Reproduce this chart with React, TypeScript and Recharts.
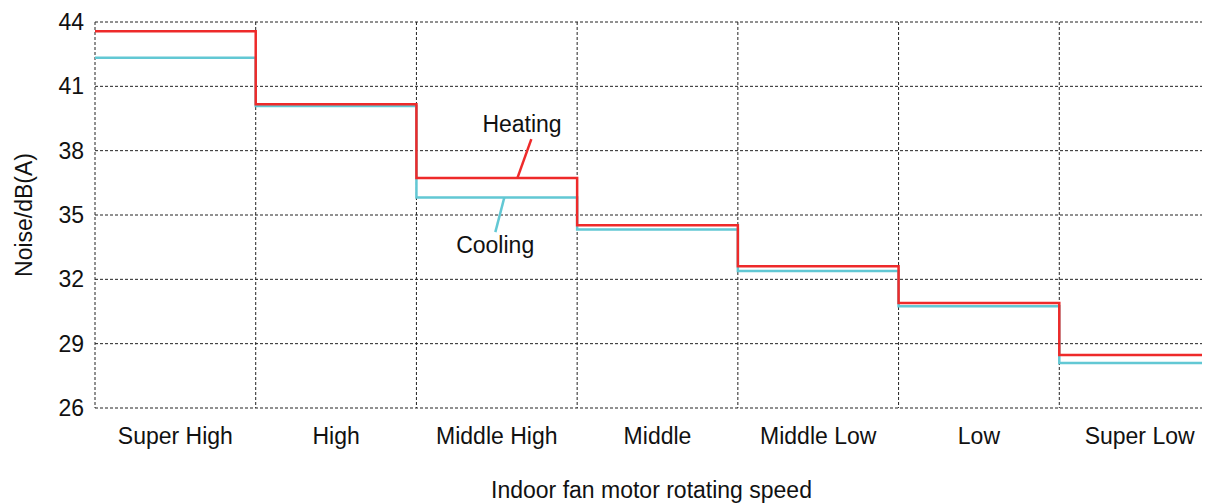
import {
  LineChart,
  Line,
  XAxis,
  YAxis,
  CartesianGrid,
  ReferenceLine,
  ReferenceDot,
} from "recharts";

const categories = [
  "Super High",
  "High",
  "Middle High",
  "Middle",
  "Middle Low",
  "Low",
  "Super Low",
];
const heating = [43.57, 40.17, 36.72, 34.52, 32.61, 30.9, 28.47];
const cooling = [42.33, 40.08, 35.82, 34.32, 32.39, 30.74, 28.1];
const yTicks = [26, 29, 32, 35, 38, 41, 44];
const gridTicks = [0, 1, 2, 3, 4, 5, 6, 7];
const labelTicks = [0.5, 1.5, 2.5, 3.5, 4.5, 5.5, 6.5];

// step data: one point per band edge, last value repeated at the right edge
const data = gridTicks.map((x) => {
  const i = Math.min(x, categories.length - 1);
  return { x, heating: heating[i], cooling: cooling[i] };
});

const FONT = "'Liberation Sans', Arial, sans-serif";
const RED = "#EE2A2A";
const CYAN = "#62C8D4";
const TEXT = "#111";
const FS = 23;

export default function App() {
  return (
    <div style={{ width: 1202, height: 495, overflow: "hidden", fontFamily: FONT }}>
      <LineChart
        width={1212}
        height={495}
        data={data}
        margin={{ top: 14, right: 0, bottom: 0, left: 0 }}
      >
        <CartesianGrid stroke="#222" strokeDasharray="3 2" />
        <XAxis
          dataKey="x"
          type="number"
          domain={[0, 7]}
          ticks={gridTicks}
          height={0}
          hide
        />
        <XAxis
          xAxisId="lab"
          type="number"
          domain={[0, 7]}
          ticks={labelTicks}
          axisLine={false}
          tickLine={false}
          height={95}
          tickMargin={14}
          tick={{ fontSize: FS, fill: TEXT, fontFamily: FONT }}
          tickFormatter={(v: number) => categories[Math.floor(v)]}
          label={{
            value: "Indoor fan motor rotating speed",
            position: "insideBottom",
            offset: 5,
            dx: -6,
            fontSize: FS,
            fill: TEXT,
            fontFamily: FONT,
          }}
        />
        <YAxis
          type="number"
          domain={[26, 44]}
          ticks={yTicks}
          width={87}
          axisLine={false}
          tickLine={false}
          tickMargin={5}
          tick={{ fontSize: FS, fill: TEXT, fontFamily: FONT }}
          label={{
            value: "Noise/dB(A)",
            angle: -90,
            position: "insideLeft",
            offset: 16,
            fontSize: FS,
            fill: TEXT,
            fontFamily: FONT,
            style: { textAnchor: "middle" },
          }}
        />
        <Line
          type="stepAfter"
          dataKey="cooling"
          stroke={CYAN}
          strokeWidth={2.5}
          dot={false}
          isAnimationActive={false}
        />
        <Line
          type="stepAfter"
          dataKey="heating"
          stroke={RED}
          strokeWidth={2.5}
          dot={false}
          isAnimationActive={false}
        />
        <ReferenceLine
          segment={[
            { x: 2.715, y: 38.54 },
            { x: 2.628, y: 36.72 },
          ]}
          stroke={RED}
          strokeWidth={2.5}
        />
        <ReferenceLine
          segment={[
            { x: 2.547, y: 35.82 },
            { x: 2.491, y: 34.2 },
          ]}
          stroke={CYAN}
          strokeWidth={2.5}
        />
        <ReferenceDot
          x={2.657}
          y={39.24}
          r={0}
          fill="none"
          stroke="none"
          label={{ value: "Heating", position: "center", fontSize: FS, fill: TEXT, fontFamily: FONT }}
        />
        <ReferenceDot
          x={2.49}
          y={33.6}
          r={0}
          fill="none"
          stroke="none"
          label={{ value: "Cooling", position: "center", fontSize: FS, fill: TEXT, fontFamily: FONT }}
        />
      </LineChart>
    </div>
  );
}
